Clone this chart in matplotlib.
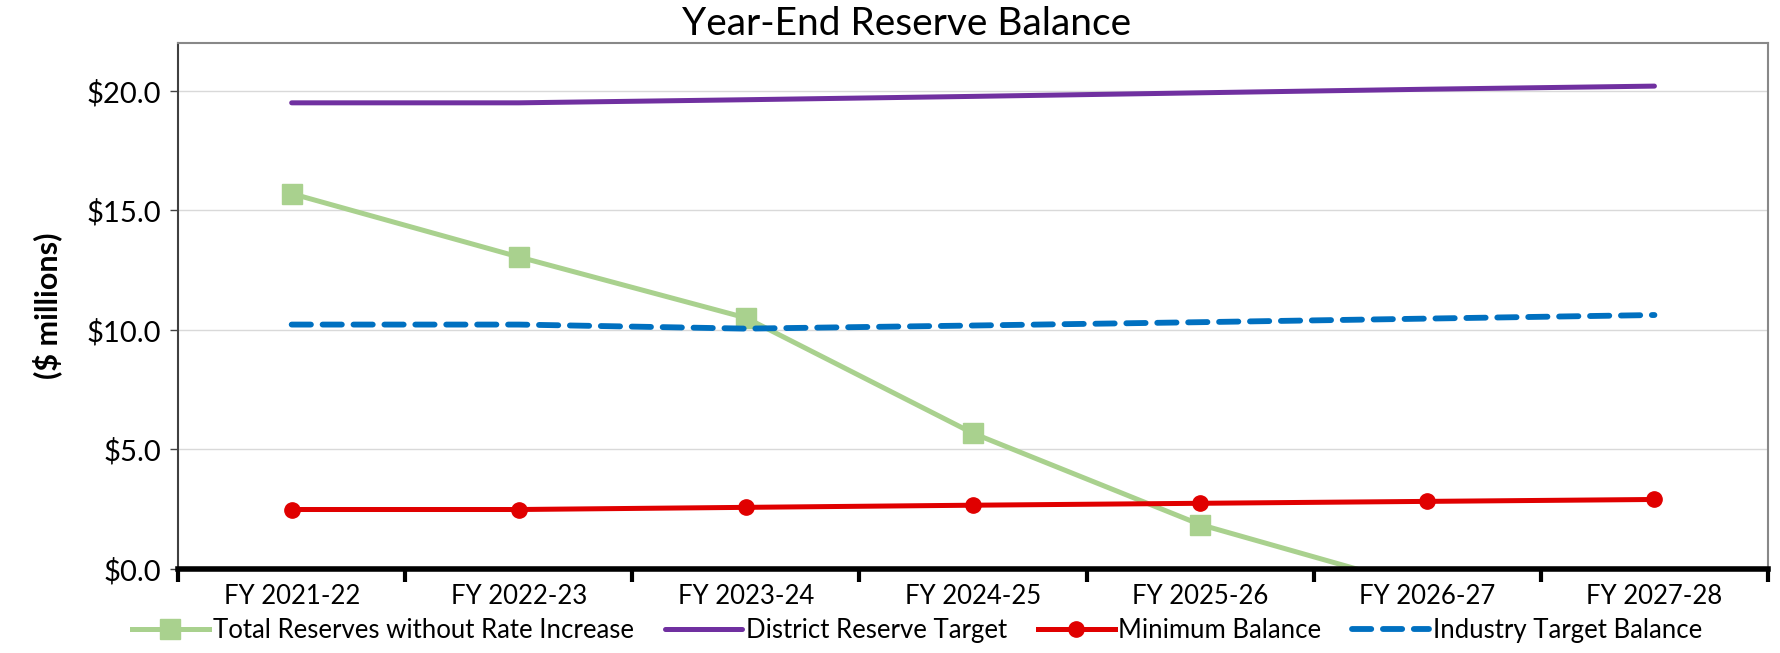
import numpy as np
import matplotlib.pyplot as plt

plt.rcParams['font.family'] = ['Lato', 'DejaVu Sans']

years = ['FY 2021-22', 'FY 2022-23', 'FY 2023-24', 'FY 2024-25',
         'FY 2025-26', 'FY 2026-27', 'FY 2027-28']
total_reserves = [15.7, 13.05, 10.5, 5.67, 1.85, -0.85, -3.5]
district_target = [19.5, 19.5, 19.63, 19.77, 19.92, 20.07, 20.2]
minimum_balance = [2.48, 2.48, 2.57, 2.66, 2.74, 2.82, 2.9]
industry_target = [10.22, 10.22, 10.05, 10.18, 10.32, 10.47, 10.62]

x = np.arange(len(years))

fig = plt.figure(figsize=(17.81, 6.53), dpi=100)
ax = fig.add_axes([0.100, 0.129, 0.8927, 0.805])

ax.plot(x, total_reserves, color='#a9d18e', lw=3.6, marker='s', ms=15,
        label='Total Reserves without Rate Increase', zorder=3)
ax.plot(x, district_target, color='#7030a0', lw=3.6, solid_capstyle='round',
        label='District Reserve Target', zorder=3)
ax.plot(x, minimum_balance, color='#e00000', lw=3.6, marker='o', ms=11,
        label='Minimum Balance', zorder=4)
ax.plot(x, industry_target, color='#0070c0', lw=4.2, dashes=(3.3, 2.0),
        dash_capstyle='round', label='Industry Target Balance', zorder=3)

ax.set_xlim(-0.5, 6.5)
ax.set_ylim(0, 22)
ax.set_yticks([0, 5, 10, 15, 20])
ax.set_yticklabels(['$%.1f' % v for v in [0, 5, 10, 15, 20]], fontsize=21)
ax.yaxis.grid(True, color='#d9d9d9', lw=1)
ax.set_axisbelow(True)

ax.set_xticks(x)
ax.set_xticklabels(years, fontsize=18.5)
ax.set_xticks(np.arange(-0.5, 7, 1), minor=True)
ax.tick_params(axis='x', which='major', length=0, pad=11)
ax.tick_params(axis='x', which='minor', length=9, width=3, color='black')
ax.tick_params(axis='y', length=6, width=1, color='#444444', pad=6)

ax.spines['bottom'].set_linewidth(4)
ax.spines['bottom'].set_color('black')
ax.spines['bottom'].set_zorder(5)
ax.spines['left'].set_color('#404040')
ax.spines['left'].set_linewidth(1.5)
for s in ['top', 'right']:
    ax.spines[s].set_color('#888888')
    ax.spines[s].set_linewidth(1.5)

ax.set_ylabel('($ millions)', fontsize=22, fontweight='bold', labelpad=18)
fig.text(0.509, 0.947, 'Year-End Reserve Balance', fontsize=28,
         ha='center', va='baseline')

fig.legend(loc='lower center', bbox_to_anchor=(0.515, -0.02), ncol=4,
           frameon=False, fontsize=18.5, handlelength=3.0, handletextpad=0.15,
           columnspacing=1.2)

fig.savefig('out.png', dpi=100)
